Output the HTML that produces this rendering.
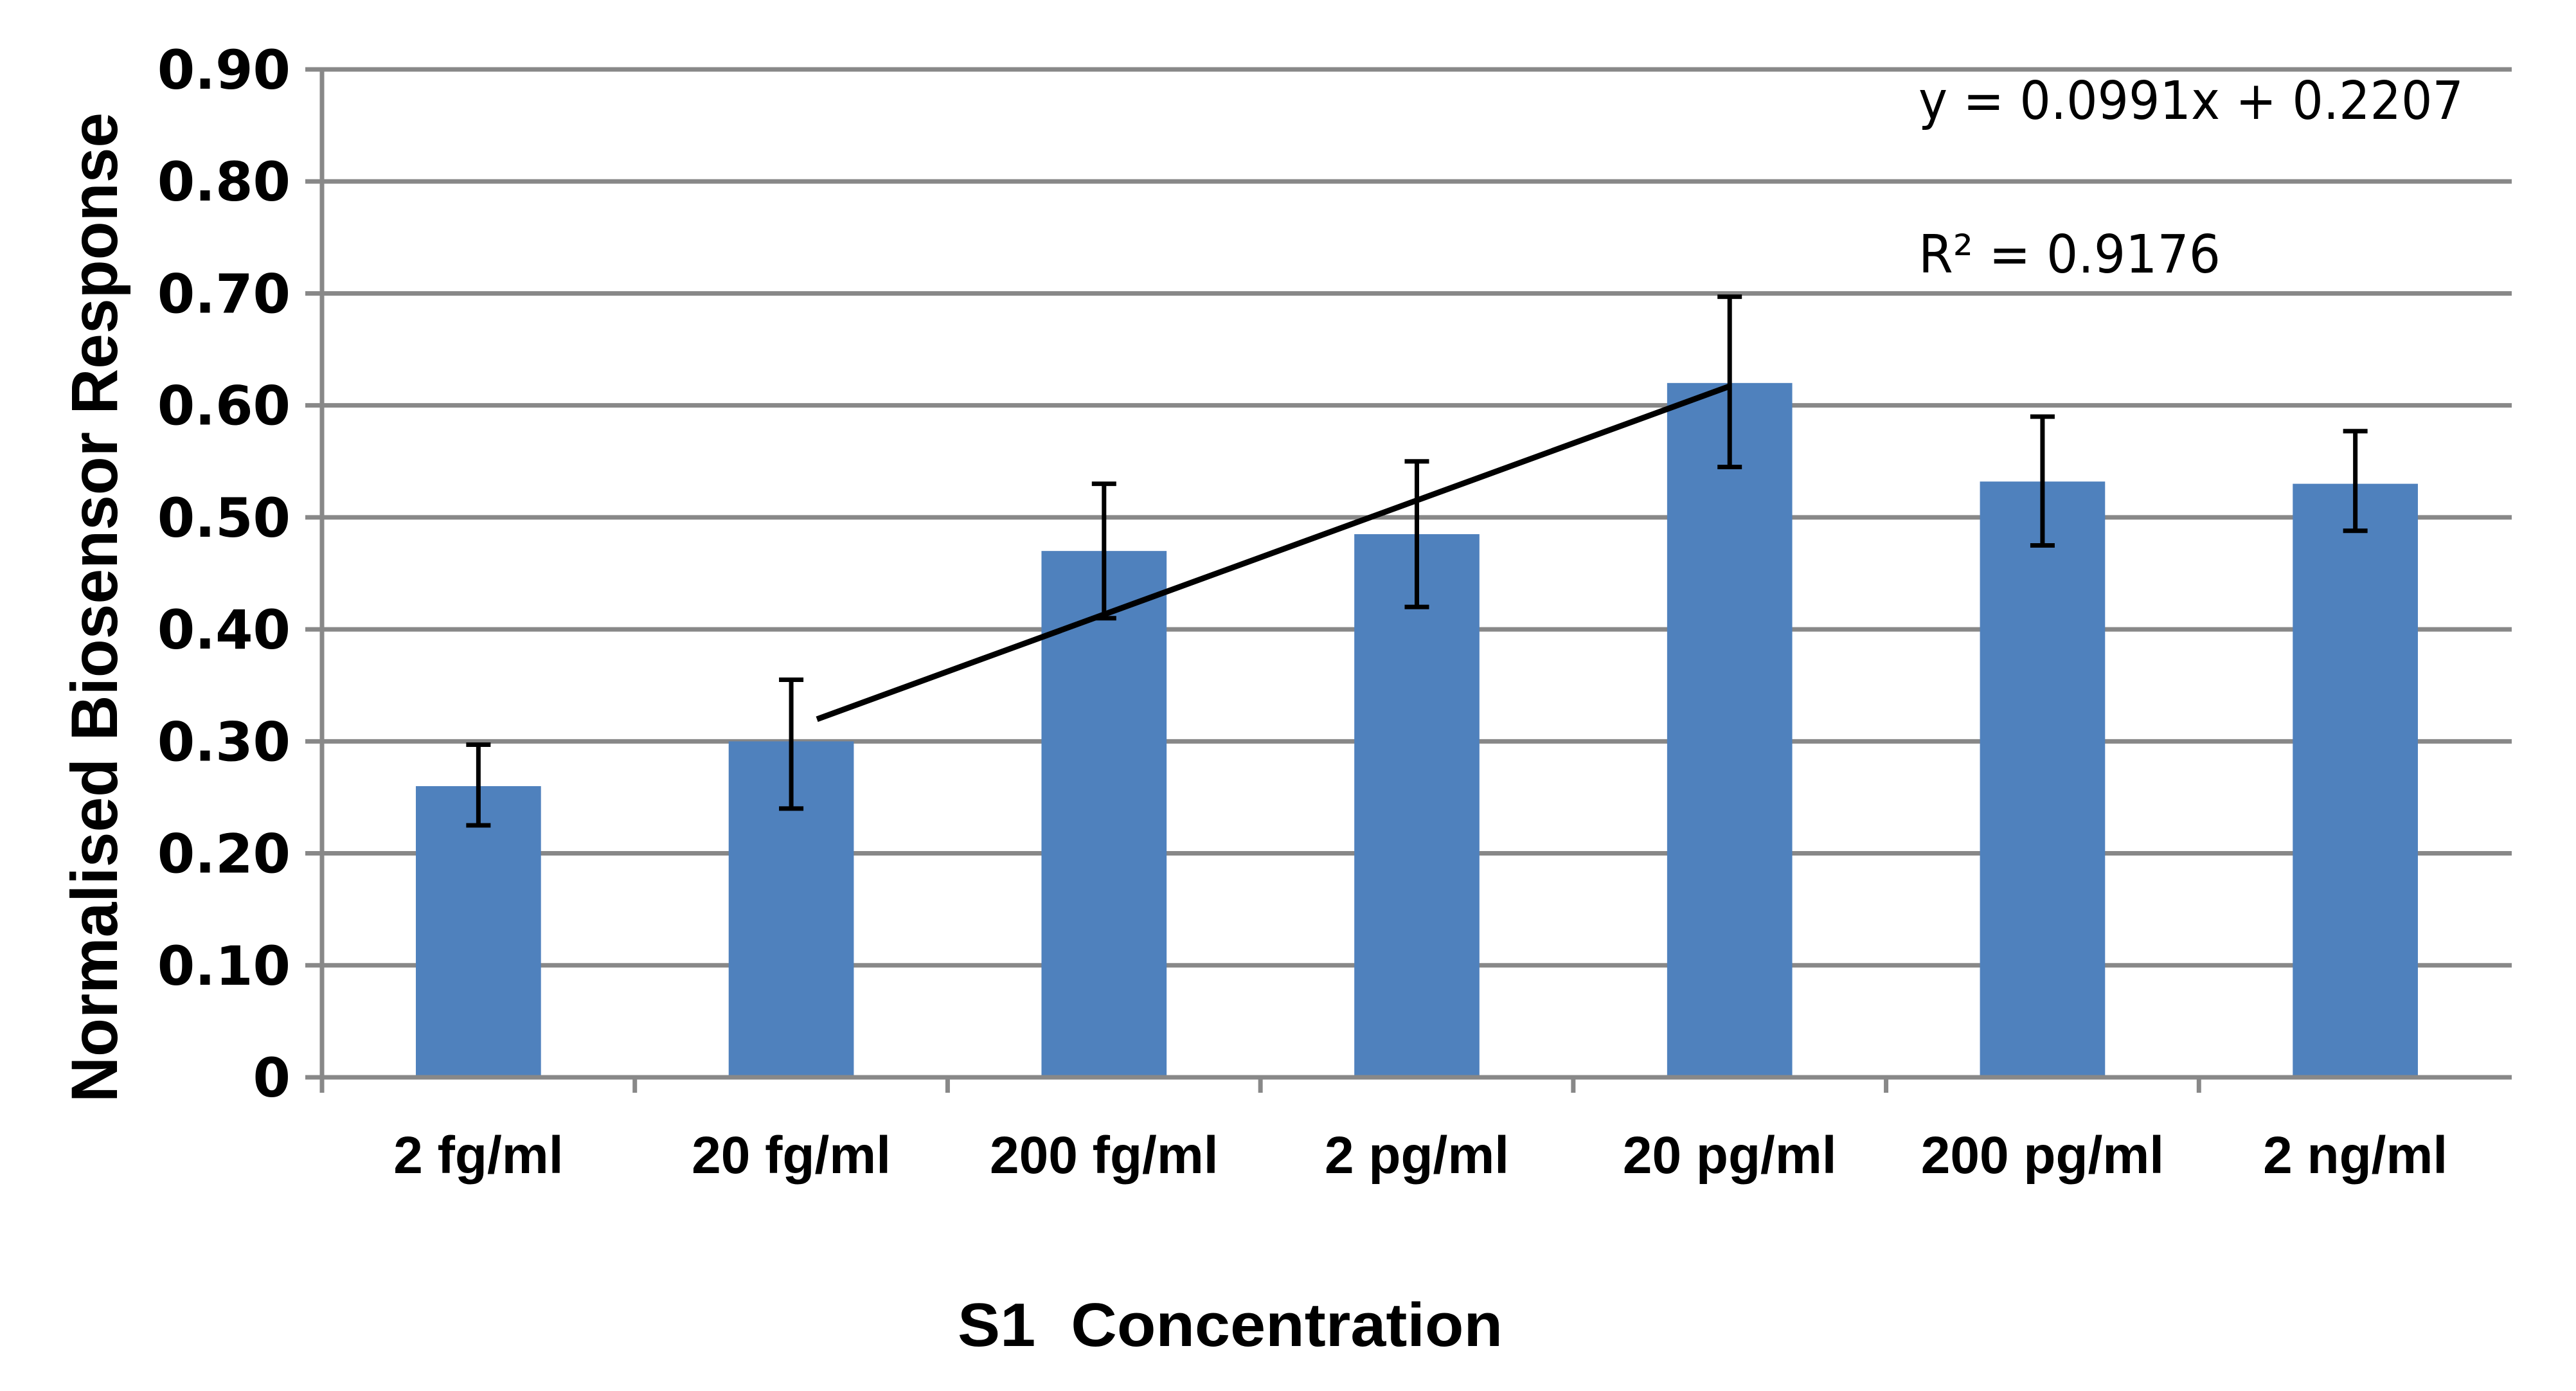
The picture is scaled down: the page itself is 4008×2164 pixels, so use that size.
<!DOCTYPE html>
<html><head><meta charset="utf-8"><style>
html,body{margin:0;padding:0;background:#fff;}
svg{display:block;}
</style></head><body>
<svg id="chart" width="4008" height="2164" viewBox="0 0 4008 2164" xmlns="http://www.w3.org/2000/svg">
<rect width="4008" height="2164" fill="#fff"/>
<g id="grid"></g>
<g id="bars"></g>
<g id="errs"></g>
<g id="axes"></g>
<g id="labels"></g>
<text transform="translate(182,945) rotate(-90)" text-anchor="middle" font-family="Liberation Sans, sans-serif" font-weight="bold" font-size="102" textLength="1540" lengthAdjust="spacingAndGlyphs" fill="#000">Normalised Biosensor Response</text>
<text x="1914" y="2094" text-anchor="middle" font-family="Liberation Sans, sans-serif" font-weight="bold" font-size="96" textLength="848" lengthAdjust="spacingAndGlyphs" fill="#000" xml:space="preserve">S1  Concentration</text>
<text x="2985" y="185" font-family="DejaVu Sans, sans-serif" font-size="82" textLength="848" lengthAdjust="spacingAndGlyphs" fill="#000">y = 0.0991x + 0.2207</text>
<text x="2985" y="424" font-family="DejaVu Sans, sans-serif" font-size="82" textLength="470" lengthAdjust="spacingAndGlyphs" fill="#000">R² = 0.9176</text>
</svg>
<script>
const categories = ["2 fg/ml","20 fg/ml","200 fg/ml","2 pg/ml","20 pg/ml","200 pg/ml","2 ng/ml"];
const values = [0.26,0.30,0.47,0.485,0.62,0.532,0.53];
const errLow = [0.225,0.24,0.41,0.42,0.545,0.475,0.488];
const errHigh = [0.297,0.355,0.53,0.55,0.697,0.59,0.577];
const yTicks = [0,0.1,0.2,0.3,0.4,0.5,0.6,0.7,0.8,0.9];
const yTickLabels = ["0","0.10","0.20","0.30","0.40","0.50","0.60","0.70","0.80","0.90"];
const trendSlope = 0.0991;
const trendIntercept = 0.2207;
const trendFrom = 1, trendTo = 4;

const NS = "http://www.w3.org/2000/svg";
const L = 501, R = 3908, Y0 = 1676, Ymax = 108, vMax = 0.9;
const band = (R - L) / categories.length;
const xC = i => L + band * (i + 0.5);
const yS = v => Y0 - (v / vMax) * (Y0 - Ymax);
function mk(tag, parent, attrs) {
  const e = document.createElementNS(NS, tag);
  for (const k in attrs) e.setAttribute(k, attrs[k]);
  document.getElementById(parent).appendChild(e);
  return e;
}
yTicks.forEach((t, i) => {
  const y = yS(t);
  if (t > 0) {
    const g = mk("line", "grid", {x1: L - 26, x2: R, y1: y, y2: y, stroke: "#888", "stroke-width": 7});
    
    
  }
  const tx = mk("text", "labels", {x: 452, y: y + 30, "text-anchor": "end", "font-family": "DejaVu Sans, sans-serif", "font-weight": "bold", "font-size": 84, fill: "#000"});
  tx.textContent = yTickLabels[i];
  
  
});
const bw = band * 0.4;
categories.forEach((c, i) => {
  const b = mk("rect", "bars", {x: xC(i) - bw / 2, y: yS(values[i]), width: bw, height: Y0 - yS(values[i]), fill: "#4f81bd"});
  
  
  const e1 = mk("line", "errs", {x1: xC(i), x2: xC(i), y1: yS(errLow[i]), y2: yS(errHigh[i]), stroke: "#000", "stroke-width": 7});
  
  
  [errLow[i], errHigh[i]].forEach(v => {
    const cap = mk("line", "errs", {x1: xC(i) - 19, x2: xC(i) + 19, y1: yS(v), y2: yS(v), stroke: "#000", "stroke-width": 7});
    
    
  });
  const lb = mk("text", "labels", {x: xC(i), y: 1825, "text-anchor": "middle", "font-family": "Liberation Sans, sans-serif", "font-weight": "bold", "font-size": 82, fill: "#000"});
  lb.textContent = c;
  
  
});
for (let i = 0; i < categories.length; i++) {
  const tk = mk("line", "axes", {x1: L + band * i, x2: L + band * i, y1: Y0, y2: Y0 + 24, stroke: "#888", "stroke-width": 7});
  
  
}
const ax = mk("line", "axes", {x1: L - 26, x2: R, y1: Y0, y2: Y0, stroke: "#888", "stroke-width": 7});


const ay = mk("line", "axes", {x1: L, x2: L, y1: Ymax, y2: Y0 + 24, stroke: "#888", "stroke-width": 7});


const tl = mk("line", "errs", {x1: xC(trendFrom) + 40, y1: yS(trendSlope * trendFrom + trendIntercept), x2: xC(trendTo), y2: yS(trendSlope * trendTo + trendIntercept), stroke: "#000", "stroke-width": 9});


</script>
</body></html>
